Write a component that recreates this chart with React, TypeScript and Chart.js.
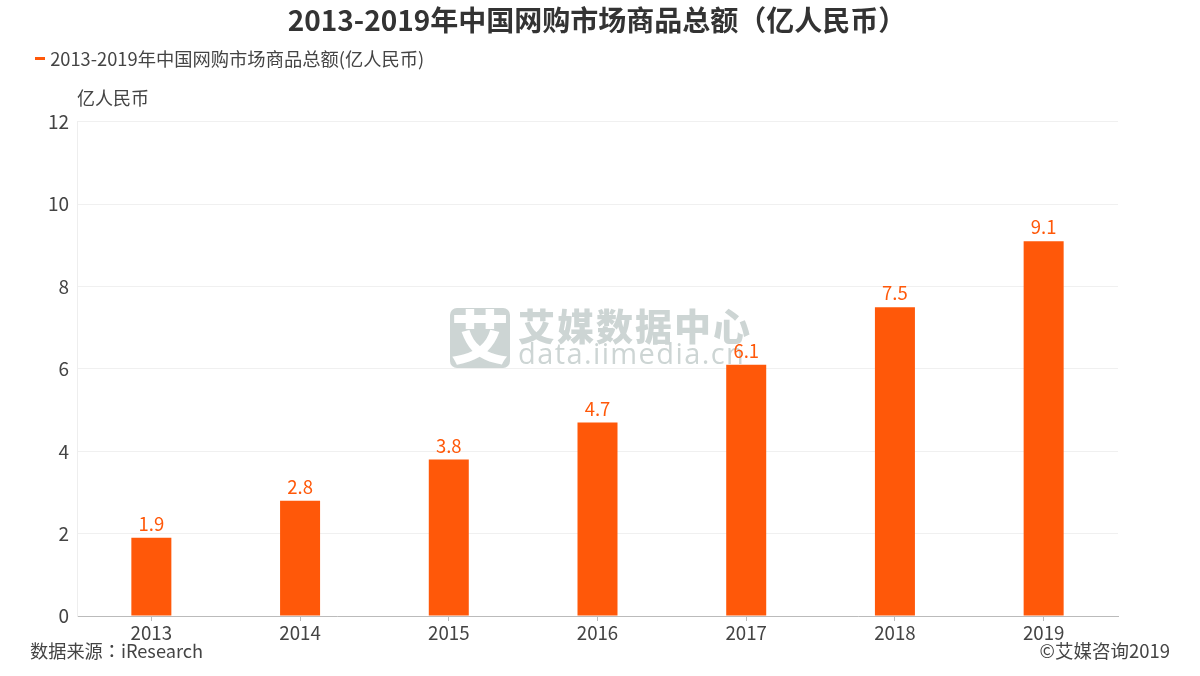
import React, { useEffect, useRef } from "react";
import { Chart, registerables } from "chart.js";

Chart.register(...registerables);

const categories = ["2013", "2014", "2015", "2016", "2017", "2018", "2019"];
const values = [1.9, 2.8, 3.8, 4.7, 6.1, 7.5, 9.1];
const titleText = "2013-2019年中国网购市场商品总额（亿人民币）";
const seriesName = "2013-2019年中国网购市场商品总额(亿人民币)";
const unitText = "亿人民币";
const sourceText = "数据来源：iResearch";
const copyrightText = "©艾媒咨询2019";
const watermarkLogo = "艾";
const watermarkName = "艾媒数据中心";
const watermarkUrl = "data.iimedia.cn";

const FONT = '"Noto Sans CJK SC", "Noto Sans", sans-serif';
const FONT_TC = '"Noto Sans CJK TC", "Noto Sans", sans-serif';
const ORANGE = "#ff5809";
const TEXT = "#444444";
const MARK = "#cdd5d4";

const textPlugin = {
  id: "chartTexts",
  beforeDatasetsDraw(chart: any) {
    const c = chart.ctx;
    c.save();
    c.fillStyle = MARK;
    c.beginPath();
    c.roundRect(450, 308, 60, 60, 7);
    c.fill();
    c.fillStyle = "#ffffff";
    c.font = `900 58px ${FONT}`;
    c.textAlign = "center";
    c.textBaseline = "middle";
    c.fillText(watermarkLogo, 480, 337);
    c.fillStyle = MARK;
    c.textAlign = "left";
    c.font = `900 37px ${FONT}`;
    c.letterSpacing = "2px";
    c.fillText(watermarkName, 518, 327);
    c.font = `400 29px "Open Sans", ${FONT}`;
    c.letterSpacing = "1.4px";
    c.fillText(watermarkUrl, 518, 356);
    c.restore();
  },
  afterDatasetsDraw(chart: any) {
    const c = chart.ctx;
    const meta = chart.getDatasetMeta(0);
    c.save();
    c.font = `400 18.5px ${FONT}`;
    c.fillStyle = ORANGE;
    c.textAlign = "center";
    c.textBaseline = "middle";
    meta.data.forEach((bar: any, i: number) => {
      c.fillText(String(values[i]), bar.x, bar.y - 14);
    });
    c.restore();
  },
  afterDraw(chart: any) {
    const c = chart.ctx;
    c.save();
    c.fillStyle = TEXT;
    c.textBaseline = "middle";
    c.textAlign = "left";
    c.font = `400 18px ${FONT}`;
    c.fillText(unitText, 77, 98);
    c.font = `400 18.2px ${FONT_TC}`;
    c.fillText(sourceText, 30, 651);
    c.textAlign = "right";
    c.font = `400 18.5px ${FONT}`;
    c.fillText(copyrightText, 1170, 651);
    c.restore();
  },
};

function legendSwatch() {
  const s = document.createElement("canvas");
  s.width = 14;
  s.height = 3;
  const c = s.getContext("2d") as CanvasRenderingContext2D;
  c.fillStyle = ORANGE;
  c.fillRect(4, 0, 10, 3);
  return s;
}

export default function App() {
  const ref = useRef<HTMLCanvasElement>(null);
  useEffect(() => {
    const chart = new Chart(ref.current as HTMLCanvasElement, {
      type: "bar",
      data: {
        labels: categories,
        datasets: [
          {
            label: seriesName,
            data: values,
            backgroundColor: ORANGE,
            pointStyle: legendSwatch(),
            barPercentage: 0.269,
            categoryPercentage: 1,
          },
        ],
      },
      plugins: [textPlugin],
      options: {
        responsive: false,
        animation: false,
        devicePixelRatio: 1,
        layout: { padding: { left: 25, right: 31, top: 0, bottom: 0 } },
        plugins: {
          title: {
            display: true,
            text: titleText,
            color: "#333333",
            font: { family: FONT, size: 28, weight: "bold" },
            padding: { top: 4, bottom: 2 },
          },
          legend: {
            display: true,
            align: "start",
            labels: {
              color: TEXT,
              font: { family: FONT, size: 18.3 },
              usePointStyle: true,
              pointStyleWidth: 6,
              padding: 10,
            },
          },
          tooltip: { enabled: false },
        },
        scales: {
          x: {
            type: "category",
            offset: true,
            grid: { display: true, offset: false, drawOnChartArea: false, drawTicks: true, tickLength: 5, tickColor: "#bbbbbb" },
            border: { color: "#bbbbbb", width: 1 },
            ticks: { color: TEXT, font: { family: FONT, size: 18.7 }, padding: 1, maxRotation: 0 },
            afterFit(s: any) { s.height = 60; },
          },
          y: {
            type: "linear",
            min: 0,
            max: 12,
            grid: { color: "#f0f0f0", drawTicks: false },
            border: { color: "#eeeeee", width: 1 },
            ticks: { stepSize: 2, color: TEXT, font: { family: FONT, size: 19 }, padding: 8 },
            afterFit(s: any) { s.width = 52; },
          },
          topSpacer: {
            type: "linear",
            position: "top",
            display: true,
            min: 0,
            max: 1,
            grid: { display: false },
            border: { display: false },
            ticks: { display: false },
            afterFit(s: any) { s.height = 44; },
          },
          rightSpacer: {
            type: "linear",
            position: "right",
            display: true,
            min: 0,
            max: 1,
            grid: { display: false },
            border: { display: false },
            ticks: { display: false },
            afterFit(s: any) { s.width = 51; },
          },
        },
      } as any,
    });
    return () => chart.destroy();
  }, []);
  return (
    <canvas
      ref={ref}
      width={1200}
      height={676}
      style={{ position: "absolute", left: 0, top: 0, display: "block" }}
    />
  );
}
